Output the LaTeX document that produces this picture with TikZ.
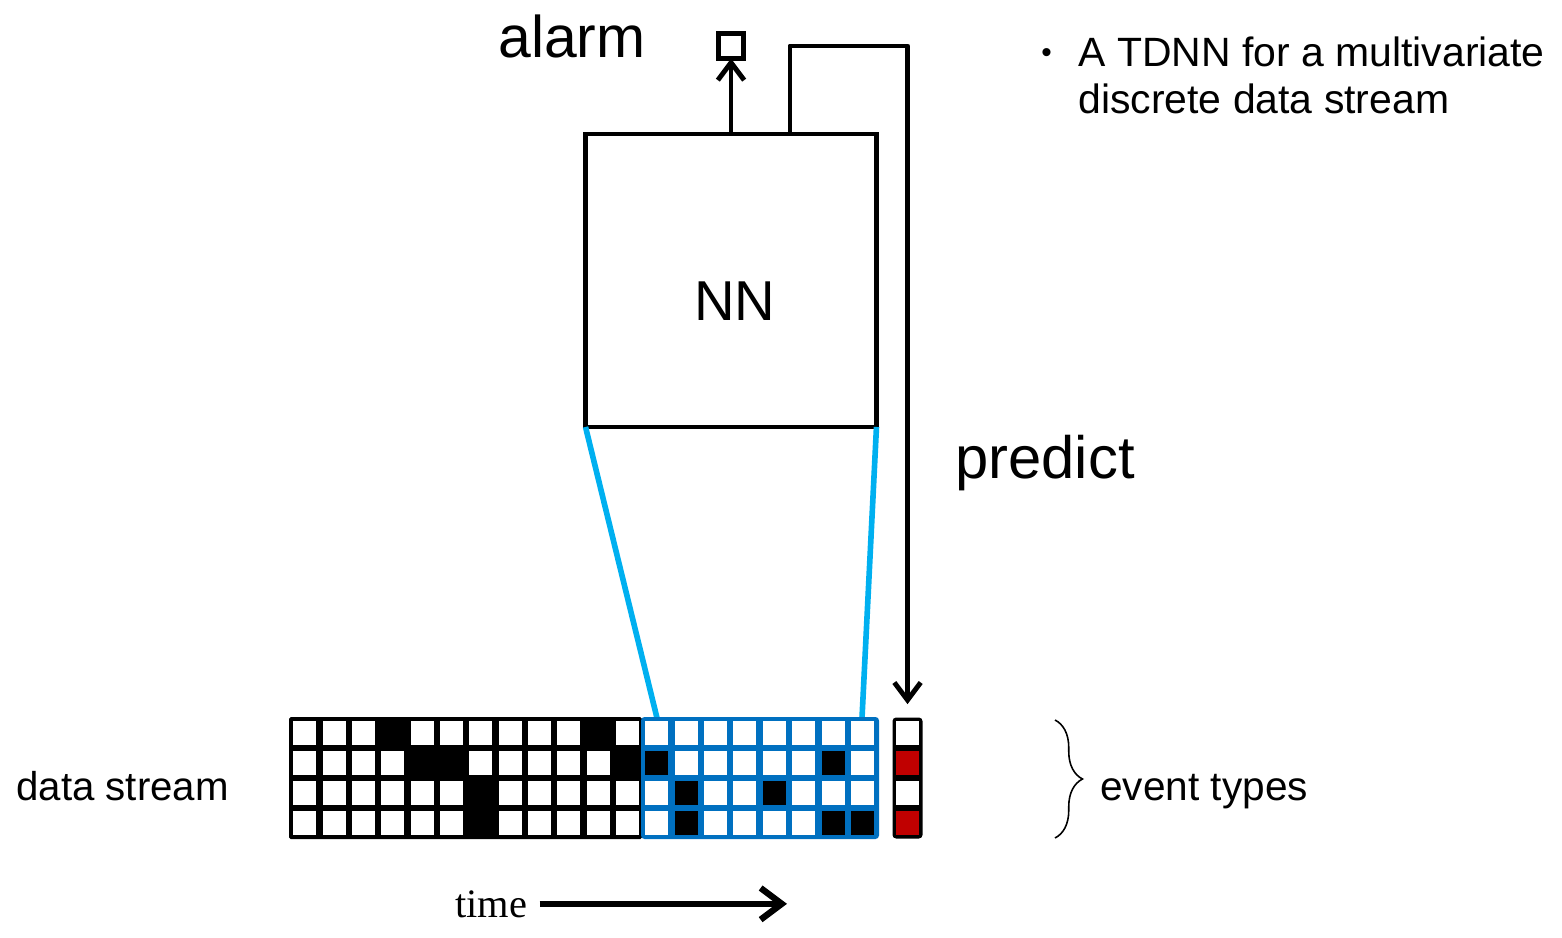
\documentclass[tikz,border=0pt]{standalone}
\usepackage{fontspec}
\setmainfont{Liberation Sans}
\newfontfamily\timesfont{Liberation Serif}
\usetikzlibrary{arrows.meta,positioning,decorations.pathreplacing}
\definecolor{gridblue}{HTML}{0070C0}
\definecolor{linkblue}{HTML}{00B0F0}
\definecolor{eventred}{HTML}{C00000}

\begin{document}
\begin{tikzpicture}[x=0.02cm, y=-0.02cm]
    % Define block styles
    \tikzstyle{box} = [rectangle, draw, line width=2.8pt, inner sep=0pt, outer sep=0pt]
    \tikzstyle{line} = [draw, line width=2.8pt, -{Straight Barb[length=10pt,width=15pt]}]
    \tikzstyle{link} = [draw, linkblue, line width=3.2pt]
    \tikzstyle{txt} = [inner sep=0pt, anchor=base west]
    \useasboundingbox (0,0) rectangle (1562,937);

    % Nodes
    \node [box, minimum width=5.82cm, minimum height=5.86cm] (nn) at (731,280.5) {};
    \node [box, minimum size=0.5cm] (alarm) at (731,46) {};
    \node [fill=black, rounded corners=2pt, minimum width=0.6cm, minimum height=2.42cm, inner sep=0pt] (pred) at (907.5,778) {};
    \coordinate (winL) at (657,718);
    \coordinate (winR) at (862,718);

    % Links to the window
    \path [link] (nn.south west) -- (winL);
    \path [link] (nn.south east) -- (winR);

    % Data stream grid
    \fill [rounded corners=1pt] (289,717) rectangle (642,839);
    \fill [gridblue, rounded corners=2pt] (641,717) rectangle (879,839);
    \foreach \c in {0,...,19}
      \foreach \r in {0,...,3}
        \fill [white] ({290+\c*29.35+3.2},{718+\r*30+3.3}) rectangle ++(23,23.5);
    \foreach \c/\r in {3/0,10/0,4/1,5/1,11/1,6/2,6/3,12/1,18/1,13/2,16/2,13/3,18/3,19/3}
      \fill ({290+\c*29.35+3.2},{718+\r*30+3.3}) rectangle ++(23,23.5);

    % Predicted events
    \foreach \r/\col in {0/white,1/eventred,2/white,3/eventred}
      \fill [\col] (896,{718+\r*30+3.3}) rectangle ++(23,23.5);

    % Arrows
    \path [line] (nn.north) -- (alarm.south);
    \path [line, line join=round, shorten >=0.26cm] ([xshift=1.18cm]nn.north) |- (pred.north |- alarm) -- (pred.north);

    % Labels
    \node [txt, font=\fontsize{33.5}{40}\selectfont] (alarmlabel) at (498,57) {alarm};
    \node [txt, font=\fontsize{32}{38}\selectfont] (nnlabel) at (694,320) {NN};
    \node [txt, font=\fontsize{34}{40}\selectfont] (predict) at (955,478) {predict};
    \node [txt, font=\fontsize{22.9}{27}\selectfont] (stream) at (16,800) {data stream};
    \node [txt, font=\fontsize{23.1}{27}\selectfont] (events) at (1100,800) {event types};
    \node [txt, font=\fontsize{17}{20}\selectfont] (bullet) at (1041,62) {\textbullet};
    \node [inner sep=0pt, anchor=north west, align=left, font=\fontsize{23.3}{27.2}\selectfont] (note) at (1078,36) {A TDNN for a multivariate\\discrete data stream};
    \draw [decorate, decoration={brace, amplitude=0.55cm}, line width=0.9pt] (1055,720) -- (1055,838);

    % Time axis
    \node [txt, font=\timesfont\fontsize{23}{28}\selectfont] (time) at (455,917) {time};
    \coordinate (timeend) at (787,905);
    \path [draw, line width=3.6pt, -{Straight Barb[length=12pt,width=18pt]}, shorten <=0.24cm] (time.east) -- (time.east -| timeend);
\end{tikzpicture}
\end{document}
